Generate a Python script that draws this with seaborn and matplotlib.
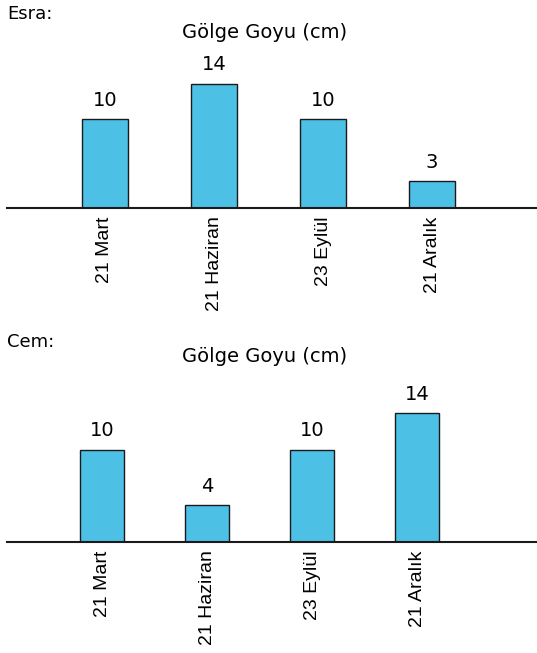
import pandas as pd
import matplotlib
matplotlib.use("Agg")
import matplotlib.pyplot as plt
import seaborn as sns

dates = ["21 Mart", "21 Haziran", "23 Eylül", "21 Aralık"]
esra = [10, 14, 10, 3]
cem = [10, 4, 10, 14]
names = ["Esra:", "Cem:"]
title = "Gölge Goyu (cm)"

sns.set_style("white")
plt.rcParams["font.family"] = ["Liberation Sans", "DejaVu Sans"]
plt.rcParams["text.color"] = "black"
plt.rcParams["xtick.color"] = "black"

W, H = 537, 653
fig = plt.figure(figsize=(W / 100, H / 100), dpi=100)

bar_color = "#4dc0e6"
wide = "DejaVu Sans"  # the reference's horizontal text is quite wide

# (values, name, baseline px, top px, left xlim, right xlim, name y, title y)
panels = [
    (esra, names[0], 208, 66, -0.899, 3.963, 14, 33),
    (cem, names[1], 542, 395, -0.905, 4.14, 342, 357),
]

for vals, name, base, top, xl, xr, name_y, title_y in panels:
    ax = fig.add_axes([7 / W, 1 - base / H, 1 - 7 / W, (base - top) / H])
    df = pd.DataFrame({"tarih": dates, "boy": vals})
    sns.barplot(data=df, x="tarih", y="boy", color=bar_color, width=0.42,
                edgecolor="#1a1a1a", linewidth=1, saturation=1, ax=ax)
    ax.set_ylim(0, 16)
    ax.set_xlim(xl, xr)
    for c in ax.containers:
        ax.bar_label(c, labels=[str(v) for v in vals], padding=7, fontsize=14,
                     color="black", family=wide)
    sns.despine(ax=ax, left=True)
    ax.spines["bottom"].set_linewidth(1.5)
    ax.spines["bottom"].set_color("#1a1a1a")
    ax.set_yticks([])
    ax.set_xlabel("")
    ax.set_ylabel("")
    ax.tick_params(axis="x", length=0, pad=6, labelsize=14, rotation=90,
                   labelcolor="black")
    fig.text(7 / W, 1 - name_y / H, name, fontsize=13, va="center", ha="left",
             family=wide)
    fig.text(265 / W, 1 - title_y / H, title, fontsize=14, va="center",
             ha="center", family=wide)

fig.savefig("out.png", dpi=100)
